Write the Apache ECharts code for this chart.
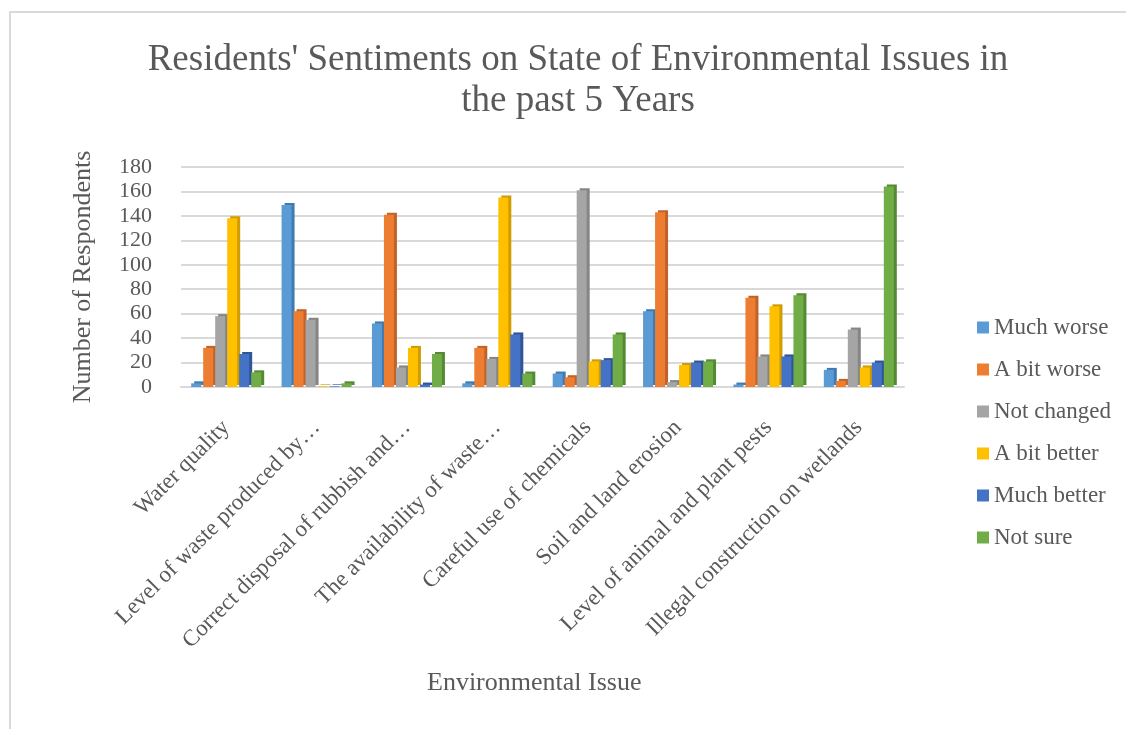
<!DOCTYPE html>
<html>
<head>
<meta charset="utf-8">
<script src="https://cdn.jsdelivr.net/npm/echarts@6/dist/echarts.min.js"></script>
<style>
  html, body { margin: 0; padding: 0; background: #fff; }
  #chart { width: 1126px; height: 729px; }
</style>
</head>
<body>
<div id="chart"></div>
<script>
// categories (labels as they appear, truncated)
var issues = [
    'Water quality',
    'Level of waste produced by\u2026',
    'Correct disposal of rubbish and\u2026',
    'The availability of waste\u2026',
    'Careful use of chemicals',
    'Soil and land erosion',
    'Level of animal and plant pests',
    'Illegal construction on wetlands'
];
var seriesNames = ['Much worse', 'A bit worse', 'Not changed', 'A bit better', 'Much better', 'Not sure'];

// values per sentiment
var muchWorse   = [3, 149, 52, 3, 11, 62, 2, 14];
var bitWorse    = [32, 62, 141, 32, 8, 143, 73, 5];
var notChanged  = [58, 55, 16, 23, 161, 4, 25, 47];
var bitBetter   = [138, 0.5, 32, 155, 21, 18, 66, 16];
var muchBetter  = [27, 0.5, 2, 43, 22, 20, 25, 20];
var notSure     = [12, 3, 27, 11, 43, 21, 75, 164];

var yTicks = [0, 20, 40, 60, 80, 100, 120, 140, 160, 180];

var colors = ['#5B9BD5', '#ED7D31', '#A5A5A5', '#FFC000', '#4472C4', '#70AD47'];
var sideColors = ['#3E7BB3', '#C0632A', '#858585', '#D09C00', '#30549A', '#548A34'];
var allData = [muchWorse, bitWorse, notChanged, bitBetter, muchBetter, notSure];

var font = '"Liberation Serif", "Times New Roman", serif';
var txt = '#595959';

var myChart = echarts.init(document.getElementById('chart'));

var series = [];
for (var i = 0; i < seriesNames.length; i++) {
    series.push({
        name: seriesNames[i],
        type: 'bar',
        barWidth: 10,
        barGap: '20%',
        data: allData[i],
        itemStyle: {
            color: colors[i],
            shadowColor: sideColors[i],
            shadowOffsetX: 3,
            shadowOffsetY: -2,
            shadowBlur: 0
        }
    });
}

myChart.setOption({
    animation: false,
    color: colors,
    title: {
        text: "Residents' Sentiments on State of Environmental Issues in\nthe past 5 Years",
        left: 573,
        top: 35,
        textAlign: 'center',
        textStyle: {
            fontFamily: font,
            fontSize: 37,
            fontWeight: 'normal',
            color: txt,
            lineHeight: 41
        }
    },
    legend: {
        orient: 'vertical',
        left: 972,
        top: 311,
        itemWidth: 12,
        itemHeight: 12,
        itemGap: 19,
        icon: 'rect',
        data: seriesNames,
        textStyle: { fontFamily: font, fontSize: 23, color: txt }
    },
    grid: {
        left: 181,
        right: 222,
        top: 167,
        bottom: 342
    },
    xAxis: {
        type: 'category',
        data: issues,
        axisLine: { show: true, lineStyle: { color: '#d9d9d9', width: 2 } },
        axisTick: { show: false },
        axisLabel: {
            rotate: 45,
            interval: 0,
            margin: 37,
            fontFamily: font,
            fontSize: 23,
            color: txt
        }
    },
    yAxis: {
        type: 'value',
        min: yTicks[0],
        max: yTicks[yTicks.length - 1],
        interval: 20,
        name: 'Number of Respondents',
        nameLocation: 'middle',
        nameGap: 85,
        nameTextStyle: { fontFamily: font, fontSize: 26, color: txt },
        axisLine: { show: false },
        axisTick: { show: false },
        axisLabel: { fontFamily: font, fontSize: 22, color: txt, margin: 29 },
        splitLine: { lineStyle: { color: '#d9d9d9', width: 2 } }
    },
    graphic: [{
        type: 'polyline',
        shape: { points: [[10, 729], [10, 12], [1126, 12]] },
        style: { stroke: '#d9d9d9', lineWidth: 2, fill: null },
        silent: true
    }, {
        type: 'text',
        left: 427,
        top: 670,
        style: {
            text: 'Environmental Issue',
            font: '26px ' + font,
            fill: txt
        },
        silent: true
    }],
    series: series
});
</script>
</body>
</html>
